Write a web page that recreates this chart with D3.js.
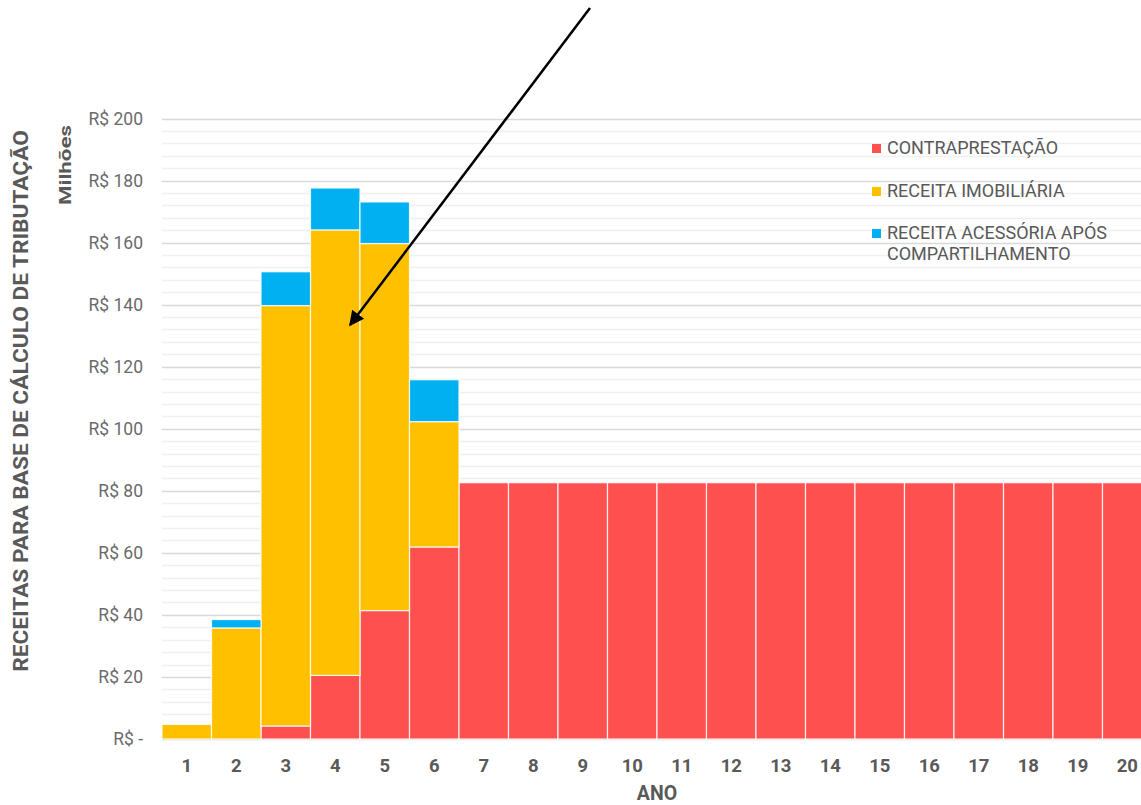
<!DOCTYPE html>
<html>
<head>
<meta charset="utf-8">
<script src="https://cdn.jsdelivr.net/npm/d3@7"></script>
<style>
  html, body { margin: 0; padding: 0; background: #fff; }
  svg { display: block; font-family: Roboto, "Noto Sans", sans-serif; }
</style>
</head>
<body>
<svg id="chart" width="1141" height="805"></svg>
<script>
// Anos do horizonte de projeção
const years = d3.range(1, 21).map(String);

// Receitas por ano, em milhões de R$
const contraprestacao = [0, 0, 4.2, 20.5, 41.4, 61.9, 82.6, 82.6, 82.6, 82.6, 82.6, 82.6, 82.6, 82.6, 82.6, 82.6, 82.6, 82.6, 82.6, 82.6];
const receitaImobiliaria = [4.7, 35.8, 135.5, 143.6, 118.3, 40.4, 0, 0, 0, 0, 0, 0, 0, 0, 0, 0, 0, 0, 0, 0];
const receitaAcessoria = [0, 2.7, 10.9, 13.5, 13.4, 13.5, 0, 0, 0, 0, 0, 0, 0, 0, 0, 0, 0, 0, 0, 0];

const seriesNames = ["CONTRAPRESTAÇÃO", "RECEITA IMOBILIÁRIA", "RECEITA ACESSÓRIA APÓS COMPARTILHAMENTO"];
const seriesColors = ["#FF5050", "#FFC000", "#00B0F0"];
const yTicks = [0, 20, 40, 60, 80, 100, 120, 140, 160, 180, 200];

const svg = d3.select("#chart");
const margin = { left: 162, right: -11, top: 118.5, bottom: 66 };
const W = 1141, H = 805;

const x = d3.scaleBand().domain(years).range([margin.left, W - margin.right]).padding(0);
const y = d3.scaleLinear().domain([0, 200]).range([H - margin.bottom, margin.top]);

// Linhas de grade secundárias (a cada 4) e principais (a cada 20)
const minor = d3.range(0, 201, 4).filter(v => v % 20 !== 0);
svg.append("g").selectAll("line").data(minor).join("line")
  .attr("x1", margin.left).attr("x2", W)
  .attr("y1", d => Math.round(y(d)) + 0.5).attr("y2", d => Math.round(y(d)) + 0.5)
  .attr("stroke", "#f0f0f0").attr("stroke-width", 1.3);
svg.append("g").selectAll("line").data(yTicks).join("line")
  .attr("x1", margin.left).attr("x2", W)
  .attr("y1", d => Math.round(y(d)) + 0.5).attr("y2", d => Math.round(y(d)) + 0.5)
  .attr("stroke", "#d9d9d9").attr("stroke-width", 1.3);

// Eixo Y
const yAxis = d3.axisLeft(y).tickValues(yTicks)
  .tickFormat(d => d === 0 ? "R$ -" : "R$ " + d).tickSize(0).tickPadding(19);
const gy = svg.append("g").attr("transform", `translate(${margin.left},0)`).call(yAxis);
gy.select(".domain").remove();
gy.selectAll("text").attr("font-size", 17.5).attr("fill", "#6b6b6b").attr("font-family", "Roboto");

// Barras empilhadas
const table = years.map((yr, i) => ({
  year: yr,
  s0: contraprestacao[i],
  s1: receitaImobiliaria[i],
  s2: receitaAcessoria[i]
}));
const stacked = d3.stack().keys(["s0", "s1", "s2"])(table);

svg.append("g").selectAll("g").data(stacked).join("g")
  .attr("fill", (d, i) => seriesColors[i])
  .selectAll("rect").data(d => d.filter(p => p[1] - p[0] > 0)).join("rect")
  .attr("x", d => x(d.data.year))
  .attr("width", x.bandwidth())
  .attr("y", d => y(d[1]))
  .attr("height", d => y(d[0]) - y(d[1]))
  .attr("stroke", "#ffffff")
  .attr("stroke-opacity", 0.85)
  .attr("stroke-width", 1.2);

// Eixo X
const xAxis = d3.axisBottom(x).tickSize(0).tickPadding(20);
const gx = svg.append("g").attr("transform", `translate(0,${H - margin.bottom})`).call(xAxis);
gx.select(".domain").remove();
gx.selectAll("text").attr("font-size", 18.5).attr("font-weight", 700).attr("fill", "#595959").attr("font-family", "Roboto");

// Títulos verticais: texto girado e esticado ao longo do próprio eixo até o comprimento desejado
function verticalTitle(label, cx, cy, size, weight, length) {
  const t = svg.append("text")
    .attr("text-anchor", "middle")
    .attr("font-size", size).attr("font-weight", weight).attr("fill", "#595959")
    .text(label);
  const natural = t.node().getComputedTextLength();
  const k = length / natural;
  t.attr("transform", `translate(${cx},${cy}) rotate(-90) scale(${k},1)`);
}
verticalTitle("RECEITAS PARA BASE DE CÁLCULO DE TRIBUTAÇÃO", 28, 401, 19.5, 700, 542);
verticalTitle("Milhões", 71, 165, 16, 700, 80);

svg.append("text")
  .attr("x", 657).attr("y", 800)
  .attr("text-anchor", "middle")
  .attr("font-size", 19.5).attr("font-weight", 700).attr("fill", "#595959")
  .text("ANO");

// Legenda
const legendRows = [
  { lines: [seriesNames[0]], y: 148 },
  { lines: [seriesNames[1]], y: 191 },
  { lines: ["RECEITA ACESSÓRIA APÓS", "COMPARTILHAMENTO"], y: 233 }
];
const lg = svg.append("g");
legendRows.forEach((r, i) => {
  lg.append("rect").attr("x", 872).attr("y", r.y - 4).attr("width", 9).attr("height", 9)
    .attr("fill", seriesColors[i]);
  const t = lg.append("text").attr("x", 887).attr("y", r.y + 6.3)
    .attr("font-size", 18).attr("fill", "#595959");
  r.lines.forEach((ln, j) => {
    t.append("tspan").attr("x", 887).attr("dy", j === 0 ? 0 : 20.7).text(ln);
  });
});

// Seta de destaque
const defs = svg.append("defs");
defs.append("marker").attr("id", "arrowHead")
  .attr("viewBox", "0 0 10 10").attr("refX", 9).attr("refY", 5)
  .attr("markerWidth", 7).attr("markerHeight", 6).attr("orient", "auto")
  .attr("markerUnits", "strokeWidth")
  .append("path").attr("d", "M0,0 L10,5 L0,10 Z").attr("fill", "#000");
svg.append("line")
  .attr("x1", 590).attr("y1", 8).attr("x2", 350).attr("y2", 325)
  .attr("stroke", "#000").attr("stroke-width", 2.5)
  .attr("marker-end", "url(#arrowHead)");
</script>
</body>
</html>
